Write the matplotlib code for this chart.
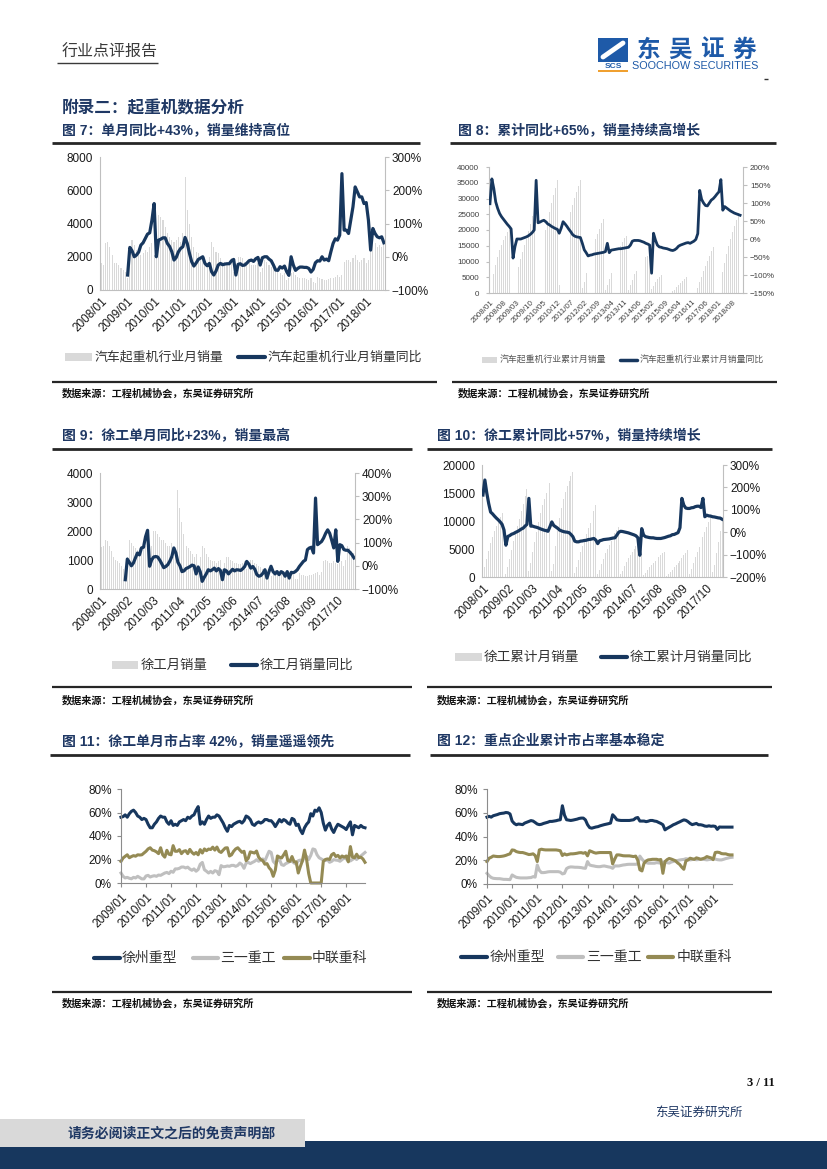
import numpy as np
import matplotlib.pyplot as plt
from matplotlib.lines import Line2D
from matplotlib.patches import Rectangle
from matplotlib.ticker import PercentFormatter

plt.rcParams['font.family'] = ['Liberation Sans', 'Noto Sans CJK SC', 'DejaVu Sans']

W, H = 827, 1169
NAVY = '#1F3864'
LINE_NAVY = '#17375E'
BAR_GREY = '#D9D9D9'
AXIS_GREY = '#BFBFBF'
SANY_GREY = '#BFBFBF'
OLIVE = '#948A54'
CJK = ['Noto Sans CJK SC', 'DejaVu Sans']

# ---------------- data ----------------
# 图7: 汽车起重机行业月销量 (2008/01-2018/09) 与同比 (2009/01 起, %)
crane_month_sales = [
    1600, 1500, 2800, 2900, 2600, 2100, 1600, 1600, 1500, 1300, 1200, 1100,
    700, 1900, 3000, 2700, 2400, 2300, 2100, 2200, 2400, 2300, 2600, 2800,
    2100, 2500, 4500, 4400, 4200, 3800, 3400, 3200, 3000, 2900, 3000, 3200,
    2900, 3400, 6800, 4800, 4000, 3200, 2600, 2300, 2200, 2000, 1900, 2000,
    1500, 2000, 2900, 2600, 2300, 2200, 1900, 1700, 1700, 1600, 1700, 1900,
    1100, 1400, 2000, 2000, 1900, 1700, 1600, 1600, 1500, 1500, 1500, 1600,
    1100, 1300, 1800, 1700, 1500, 1400, 1300, 1200, 1100, 1000, 900, 1000,
    600, 700, 1000, 1100, 900, 800, 700, 700, 700, 650, 600, 700,
    500, 450, 800, 700, 650, 600, 600, 650, 700, 750, 800, 900,
    800, 900, 1700, 1800, 1800, 1700, 1900, 2100, 1800, 1700, 1800, 1900,
    1600, 1800, 3200, 3000, 2800, 2600, 2700, 2600, 2900]
crane_month_yoy = [
    -55, 28, 18, 0, 5, 14, 35, 42, 55, 68, 72, 110,
    160, 0, 50, 53, 57, 57, 40, 31, 15, -10, -2, 15,
    25, 30, 58, 40, 10, -15, -28, -19, -8, -4, 0, -20,
    -27, -20, -45, -55, -43, -25, -20, -24, -22, -21, -21, -12,
    -8, -55, -23, -21, -26, -25, -19, -12, -10, -14, -6, -2,
    -25, -3, 0, 0, -7, -12, -25, -40, -41, -30, -34, -28,
    -45, -56, 0, -25, -41, -35, -31, -31, -32, -32, -35, -46,
    -38, -18, -12, -13, 0, -10, -7, -12, 15, 40, 54, 50,
    65, 250, 80, 80, 70, 110, 150, 210, 195, 180, 180, 160,
    163, 110, 20, 85, 70, 60, 57, 60, 42]
crane_month_labels = ['2008/01', '2009/01', '2010/01', '2011/01', '2012/01', '2013/01',
                      '2014/01', '2015/01', '2016/01', '2017/01', '2018/01']

# 图8: 汽车起重机行业累计月销量与累计同比 (2015/01 缺失)
crane_cum_sales = [
    1600, 3100, 5900, 8800, 11400, 13500, 15100, 16700, 18200, 19500, 20700, 21800,
    700, 2600, 5600, 8300, 10700, 13000, 15100, 17300, 19700, 22000, 24600, 27400,
    1800, 4200, 8500, 12800, 16600, 20000, 23000, 25800, 28500, 31000, 33400, 35800,
    2600, 5800, 11500, 16000, 19800, 23000, 25600, 27900, 30100, 32100, 34000, 36000,
    1500, 3500, 6400, 9000, 11300, 13500, 15400, 17100, 18800, 20400, 22100, 23500,
    1100, 2500, 4500, 6500, 8400, 10100, 11700, 13300, 14800, 16300, 17400, 18200,
    1100, 2400, 4200, 5900, 7000, 8000, 8900, 9800, 10600, 11300, 11900, 12500,
    1300, 2300, 3400, 4300, 5100, 5800, 6500, 7200, 7800, 8400, 9000,
    500, 950, 1750, 2450, 3100, 3700, 4300, 4950, 5650, 6400, 7200, 8100,
    800, 1700, 3400, 5200, 7000, 8700, 10300, 11900, 13300, 14700, 16000, 17500,
    1600, 3400, 6600, 9600, 12400, 15000, 17200, 19300, 21300, 23300, 25300, 27300]
crane_cum_yoy = [
    98, 167, 140, 103, 85, 71, 62, 55, 48, 41, 35, 28,
    -53, -21, 0, 0, 0, 2, 4, 6, 9, 13, 18, 25,
    163, 45, 47, 50, 52, 48, 42, 39, 35, 32, 29, 27,
    16, 30, 48, 42, 35, 27, 20, 12, 8, 6, 5, 4,
    -12, -30, -38, -47, -45, -44, -42, -41, -40, -39, -38, -37,
    -35, -12, -38, -31, -30, -29, -28, -27, -27, -26, -25, -24,
    -23, -17, -6, -4, -4, -4, -5, -7, -9, -12, -14, -17,
    -95, 16, -3, -17, -22, -23, -25, -26, -27, -29, -31,
    -32, -30, -26, -20, -17, -15, -13, -11, -10, -12, -9, -6,
    -1, 15, 135, 110, 100, 93, 92, 100, 108, 112, 118, 125,
    131, 165, 80, 90, 86, 82, 78, 75, 72, 70, 68, 66]
crane_cum_labels = ['2008/01', '2008/08', '2009/03', '2009/10', '2010/05', '2010/12',
                    '2011/07', '2012/02', '2012/09', '2013/04', '2013/11', '2014/06',
                    '2015/02', '2015/09', '2016/04', '2016/11', '2017/06', '2018/01',
                    '2018/08']

# 图9: 徐工月销量 (2008/01-2018/06) 与同比 (2009/01 起)
xcmg_month_sales = [
    1450, 1500, 1700, 1650, 1500, 1300, 1100, 1000, 950, 900, 800, 700,
    600, 1100, 1700, 1600, 1500, 1400, 1350, 1400, 1500, 1450, 1500, 1600,
    1200, 1500, 2000, 2000, 1900, 1800, 1700, 1700, 1600, 1500, 1500, 1600,
    1100, 1400, 3400, 2800, 2300, 1900, 1500, 1400, 1300, 1200, 1100, 1200,
    800, 1100, 1500, 1400, 1200, 1100, 1000, 950, 950, 900, 950, 1000,
    700, 900, 1100, 1100, 1000, 950, 900, 900, 850, 850, 900, 950,
    700, 800, 1000, 1000, 900, 850, 800, 750, 700, 650, 650, 700,
    450, 500, 650, 650, 600, 550, 500, 500, 480, 450, 430, 500,
    350, 330, 550, 500, 480, 450, 450, 480, 500, 520, 550, 600,
    500, 600, 950, 1000, 950, 900, 900, 950, 900, 850, 900, 950,
    800, 1000, 1500, 1400, 1300, 1250]
xcmg_month_yoy = [
    -60, 29, 15, 0, 12, 34, 55, 47, 77, 80, 125, 153,
    -2, 25, 38, 40, 38, 25, 9, -8, -3, 5, 20, 40,
    77, 55, 15, 0, -25, -22, -12, -8, -3, 3, 0, -35,
    -5, -25, -67, -50, -35, -17, -22, -17, -10, -22, -12, -20,
    -60, -17, -22, -35, -25, -15, -22, -17, -18, -20, -13, -3,
    19, 8, -10, -3, -15, -38, -45, -42, -32, -17, -53, -25,
    -2, -25, -35, -25, -38, -25, -30, -45, -25, -53, -28, -30,
    -25, -17, -3, 8, 19, 25, 70, 77, 80, 55, 292, 91,
    98, 105, 120, 140, 155, 140, 110, 77, 155, 19, 91, 87,
    70, 67, 67, 58, 48, 34]
xcmg_labels = ['2008/01', '2009/02', '2010/03', '2011/04', '2012/05', '2013/06',
               '2014/07', '2015/08', '2016/09', '2017/10']

# 图10: 徐工累计月销量与累计同比
xcmg_cum_sales = [
    700, 1700, 3200, 4700, 6000, 7200, 8200, 9100, 10000, 10800, 11500, 12200,
    600, 1700, 3300, 4900, 6400, 7800, 9100, 10400, 11800, 13100, 14400, 15800,
    1100, 2500, 4400, 6300, 8100, 9800, 11400, 12800, 14000, 15000, 15900, 16700,
    1000, 2300, 5600, 8300, 10500, 12400, 13900, 15200, 16300, 17200, 18000, 18800,
    700, 1700, 3100, 4400, 5600, 6700, 7700, 8700, 9700, 10700, 11800, 12800,
    500, 1300, 2300, 3300, 4200, 5000, 5700, 6400, 7100, 7800, 8400, 9000,
    500, 1100, 1900, 2700, 3400, 4000, 4500, 5000, 5500, 6000, 6300, 6600,
    300, 700, 1200, 1700, 2100, 2500, 2900, 3300, 3600, 3900, 4200, 4500,
    250, 500, 900, 1300, 1700, 2100, 2500, 2900, 3400, 3900, 4300, 4800,
    600, 1400, 2500, 3500, 4400, 5300, 6200, 7100, 8000, 8900, 9800, 10700,
    900, 2100, 4300, 6300, 8300, 10000]
xcmg_cum_yoy = [
    166, 233, 175, 128, 90, 82, 72, 63, 55, 46, 35, 10,
    -58, -19, -15, -9, -6, -1, 3, 8, 14, 18, 27, 35,
    151, 27, 27, 24, 22, 19, 15, 12, 9, 7, 4, 24,
    46, 30, 24, 18, 10, 6, 3, 1, 0, -2, -10, -20,
    -40, -43, -43, -40, -39, -37, -36, -33, -32, -30, -28, -35,
    -51, -38, -36, -33, -32, -31, -30, -28, -26, -25, -13, 0,
    4, 3, 1, -1, -3, -6, -9, -12, -16, -25, -103, 16,
    -13, -20, -22, -24, -25, -25, -27, -28, -28, -28, -26, -24,
    -21, -18, -16, -11, -10, -6, -2, 20, 151, 121, 108, 106,
    106, 109, 110, 114, 116, 116, 110, 151, 69, 76, 73, 72,
    69, 68, 66, 64, 63, 58]

# 图11: 单月市占率 (2009/01 起, %)
share_labels = ['2009/01', '2010/01', '2011/01', '2012/01', '2013/01', '2014/01',
                '2015/01', '2016/01', '2017/01', '2018/01']
month_share_xcmg = [
    56, 56.5, 58, 56, 59, 61, 62, 60, 57, 56, 54, 55,
    54, 50, 47, 47, 50, 52, 55, 57, 56, 56, 52, 50,
    53, 49, 50, 49, 52, 53, 54, 53, 56, 55, 57, 58,
    62, 65, 50, 52, 50, 54, 57, 55, 56, 56, 58, 57,
    54, 51, 47, 44, 49, 48, 50, 51, 52, 52.5, 51, 53,
    57, 56, 54, 50, 49, 51, 52, 51, 52, 54, 54, 53,
    53, 51, 48, 51, 54, 52, 54, 53, 51, 50, 55, 54,
    49, 50, 45, 42, 47, 50, 52, 59, 57, 62, 61, 64,
    60, 51, 45, 49, 51, 46, 43, 47, 50, 49, 48, 47,
    45.5, 49, 52, 41, 49, 48, 47, 49, 47.5, 47]
month_share_sany = [
    8.5, 5.7, 4.3, 4.8, 4, 3.6, 4.8, 4.3, 5.7, 4.6, 3.5, 3.5,
    6, 6.5, 5.1, 5.8, 6.2, 5.7, 6.8, 6.5, 7.5, 8.5, 9, 8,
    10, 9.1, 12, 12, 12.5, 13.6, 13.6, 12.8, 13.5, 11.9, 10.8, 12,
    10, 11.5, 16, 17.5, 11.3, 10, 8.5, 9.9, 8.5, 10.5, 9.9, 7.1,
    14.8, 13.8, 14, 14.5, 14.2, 15, 15, 14.2, 15, 17, 15.6, 12.5,
    17, 17.5, 16.5, 17.5, 18.4, 19.8, 18.5, 19.5, 20.5, 18.8, 23, 27,
    26, 18.4, 16.5, 19, 19.9, 15.6, 15, 16.5, 17.3, 18.4, 18.4, 17,
    16, 19, 19.5, 18.5, 22.5, 22.7, 20, 23.5, 29, 28.4, 24, 21.5,
    20.5, 19.5, 19, 19.8, 17.6, 18.4, 19.9, 19.5, 19.3, 18.5, 19.9, 21.3,
    20.5, 19, 18.8, 20, 21.3, 20, 22, 23, 24.5, 26]
month_share_zoomlion = [
    18.4, 21.3, 22.7, 24, 21.5, 22.5, 23.3, 22.8, 24, 23.8, 24, 25.5,
    27, 29, 30, 28, 27.5, 26.5, 25, 30, 24, 22, 27.8, 24.5,
    24, 31.8, 27, 27, 28.4, 25, 27, 27.5, 25, 28.6, 26.1, 24.5,
    26, 24, 28.4, 25.5, 29, 27.5, 28.9, 28.5, 30.5, 28, 30.6, 27,
    26, 28, 29.8, 30, 23, 24, 27, 29, 30, 28, 26.1, 27,
    19, 21, 26.5, 26, 25.5, 27.2, 22, 19.9, 19, 16, 16.5, 13,
    11, 5.7, 11, 23, 22, 21.3, 24, 27, 19, 18.4, 22.5, 18,
    18, 8.5, 14, 19, 28, 19.9, 8, 0, 0, 0, 0, 0,
    0, 18.4, 20, 20.5, 20, 24, 25.2, 22.5, 23.5, 21.3, 23, 22,
    23, 18, 31, 22, 21.5, 24.5, 21.5, 22, 20.5, 17.6]

# 图12: 累计市占率 (2009/01 起, %)
cum_share_xcmg = [
    56.3, 57, 56.3, 57.5, 58, 58.5, 59.2, 59.5, 59.7, 60.2, 60, 59,
    53, 51, 49.9, 50.5, 50.3, 50, 51.3, 52, 52.7, 53.4, 53, 51.8,
    50.5, 50, 50.3, 51, 51.5, 52, 52.7, 52.7, 53, 53.3, 53.8, 54.1,
    65.9, 58, 54.1, 53.8, 53.5, 53.8, 54.2, 54.6, 55.2, 55.5, 55.5, 54,
    50, 47.5, 47, 47.5, 48, 48.3, 49, 49.5, 50, 50.4, 50.8, 51.3,
    58.3, 56.5, 54.1, 53.7, 53.5, 53.5, 53.5, 53.5, 53.5, 53.8, 54.1, 55.5,
    56, 53, 53, 53, 52.5, 52.9, 53.5, 53.5, 53, 52.7, 51.8, 51,
    49.9, 45.6, 46.8, 47.8, 48.8, 49.9, 50.6, 51.5, 52.3, 53.2, 54, 53.6,
    52.5, 51, 50, 50.5, 51, 49.9, 49.9, 49.5, 48.8, 48.6, 49, 48.6,
    48.8, 48.5, 46, 48, 47.9, 47.9, 47.9, 47.9, 47.9, 47.9]
cum_share_sany = [
    9, 7, 5.5, 4.8, 4.6, 4.5, 4.5, 4.2, 3.9, 3.9, 3.8, 3.7,
    7.6, 6.5, 5.6, 5.3, 5.1, 5.1, 5.1, 5.1, 5.3, 5.4, 6.2, 5.8,
    16, 11.5, 9.6, 9.6, 9.8, 10.2, 10.4, 10.4, 10.4, 10.4, 10.4, 10,
    8.5, 9, 13, 14, 14.4, 14.3, 14.1, 14.1, 14, 13.8, 13.4, 13.2,
    18.9, 16, 15.5, 15.2, 14.8, 14.6, 14.6, 15, 15.2, 14.8, 14.4, 14.1,
    13.2, 15.2, 15.2, 15.2, 15.6, 16, 16.2, 16.5, 16.6, 16.6, 16.6, 16.6,
    16.8, 23.5, 21, 19, 18, 17.5, 17.5, 17.5, 17.5, 18, 17.8, 17.5,
    18.5, 18.5, 18, 17.6, 18.5, 19, 19.5, 19.8, 20.2, 20.5, 20.7, 21.3,
    21, 20.3, 20.6, 20.8, 20.4, 20.6, 20.8, 20.8, 20.6, 20.3, 20.6, 20.8,
    21.4, 21, 20.5, 20.3, 20.3, 20.8, 21.4, 21.8, 22.3, 22.5]
cum_share_zoomlion = [
    18.9, 21.7, 22.5, 23.6, 23.3, 23.1, 23.1, 23.3, 23.6, 24.1, 24.8, 25.4,
    28.7, 28.4, 27.3, 26.8, 26.5, 26.5, 26, 25.4, 24.8, 25, 25.4, 24,
    18.9, 28.7, 29.3, 28.9, 28.7, 28.7, 28.7, 28.7, 28.7, 28.7, 28.4, 28,
    24, 25.4, 24.5, 25, 25.4, 25.4, 25.6, 25.9, 26.3, 26.4, 25.9, 26.5,
    23.7, 28, 27.3, 26.5, 26, 26.3, 26.5, 26.5, 26.5, 26.5, 26.5, 26.5,
    16.9, 21, 24.5, 24.5, 24.2, 23.8, 23.7, 23.7, 23.7, 23.4, 23.1, 23.5,
    20, 12, 11, 17.5, 19.4, 20.3, 20.5, 20.8, 20.8, 20.8, 20.3, 20.6,
    9, 18.9, 20.5, 21.5, 21, 20.3, 19.5, 17.8, 16.5, 14.2, 12.4, 19.5,
    20.2, 21.7, 21.2, 20.8, 22, 21.5, 20.8, 21.3, 21.9, 23.1, 22.5, 22,
    20.5, 26.5, 26.8, 26.5, 25.6, 25.4, 25.4, 24.8, 24.5, 24.5]

source_text = '数据来源：工程机械协会，东吴证券研究所'

# ---------------- helpers (pixel coords, top-left origin) ----------------
fig = plt.figure(figsize=(8.27, 11.69), dpi=100)
fig.patch.set_facecolor('white')


def frect(l, t, r, b):
    return [l / W, 1 - b / H, (r - l) / W, (b - t) / H]


def hline(x0, x1, y, lw=1.3, color='#262626'):
    fig.add_artist(Line2D([x0 / W, x1 / W], [1 - y / H] * 2, color=color, lw=lw,
                          solid_capstyle='butt'))


def ftext(x, y, s, size, **kw):
    kw.setdefault('va', 'center')
    kw.setdefault('ha', 'left')
    fig.text(x / W, 1 - y / H, s, fontsize=size, **kw)


def box(x0, y0, x1, y1, color):
    fig.add_artist(Rectangle((x0 / W, 1 - y1 / H), (x1 - x0) / W, (y1 - y0) / H,
                             facecolor=color, edgecolor='none'))


def leg_line(x0, x1, y, color, lw=3):
    fig.add_artist(Line2D([x0 / W, x1 / W], [1 - y / H] * 2, color=color, lw=lw,
                          solid_capstyle='round'))


def bar_line_chart(rect_px, bars, line, line_start, n_cat, ylim_l, yticks_l,
                   ylim_r, yticks_r, step, labels, fs=8.5, bar_w=0.5, lw=2.3,
                   tick_color='#1a1a1a', ylen=0):
    ax = fig.add_axes(frect(*rect_px))
    ax.bar(np.arange(len(bars)), bars, width=bar_w, color=BAR_GREY, linewidth=0)
    ax.set_xlim(-0.5, n_cat - 0.5)
    ax.set_ylim(*ylim_l)
    ax.set_yticks(yticks_l)
    ax.set_xticks(np.arange(len(labels)) * step)
    ax.set_xticklabels(labels, rotation=45, ha='right', rotation_mode='anchor')
    ax.tick_params(axis='x', length=0, labelsize=fs, pad=4, labelcolor=tick_color)
    ax.tick_params(axis='y', length=ylen, labelsize=fs, pad=5, labelcolor=tick_color,
                   color=AXIS_GREY)
    for s in ['top', 'right']:
        ax.spines[s].set_visible(False)
    for s in ['left', 'bottom']:
        ax.spines[s].set_color(AXIS_GREY)
        ax.spines[s].set_linewidth(0.8)
    ax2 = ax.twinx()
    ax2.plot(np.arange(line_start, line_start + len(line)), line, color=LINE_NAVY,
             lw=lw, solid_joinstyle='round')
    ax2.set_ylim(*ylim_r)
    ax2.set_yticks(yticks_r)
    ax2.yaxis.set_major_formatter(PercentFormatter(100, decimals=0))
    ax2.tick_params(axis='y', length=3, color=AXIS_GREY, labelsize=fs, pad=2,
                    labelcolor=tick_color)
    for s in ['top', 'left', 'bottom']:
        ax2.spines[s].set_visible(False)
    ax2.spines['right'].set_color(AXIS_GREY)
    ax2.spines['right'].set_linewidth(0.8)
    return ax, ax2


def share_chart(rect_px, xcmg, sany, zoomlion, fs=8.5):
    ax = fig.add_axes(frect(*rect_px))
    x = np.arange(len(xcmg))
    ax.plot(x, xcmg, color=LINE_NAVY, lw=2.2, clip_on=False)
    ax.plot(x, sany, color=SANY_GREY, lw=2.2, clip_on=False)
    ax.plot(x, zoomlion, color=OLIVE, lw=2.2, clip_on=False)
    ax.set_xlim(0, len(xcmg) - 1)
    ax.set_ylim(0, 80)
    ax.set_yticks([0, 20, 40, 60, 80])
    ax.yaxis.set_major_formatter(PercentFormatter(100, decimals=0))
    ax.set_xticks(np.arange(len(share_labels)) * 12)
    ax.set_xticklabels(share_labels, rotation=45, ha='right', rotation_mode='anchor')
    ax.tick_params(axis='both', length=3, color='#8C8C8C', labelsize=fs,
                   labelcolor='#1a1a1a')
    ax.tick_params(axis='x', pad=3)
    for s in ['top', 'right']:
        ax.spines[s].set_visible(False)
    for s in ['left', 'bottom']:
        ax.spines[s].set_color('#8C8C8C')
        ax.spines[s].set_linewidth(0.8)
    return ax


# ---------------- page header ----------------
ftext(62, 52, '行业点评报告', 11.5, color='#3a3a3a', family=CJK)
hline(57, 158, 63, lw=1.0, color='#3a3a3a')

# logo
box(598, 38, 628, 62, '#1E5AA8')
fig.add_artist(Line2D([603 / W, 623 / W], [1 - 57 / H, 1 - 43 / H], color='white',
                      lw=3.5, solid_capstyle='round'))
ftext(613, 66, 'SCS', 6, ha='center', color='#1E5AA8', weight='bold')
box(598, 70, 628, 72, '#F0A030')
for i, ch in enumerate('东吴证券'):
    ftext(648 + i * 32, 50, ch, 17, ha='center', color='#1E5AA8', weight='bold',
          family=CJK)
ftext(632, 66, 'SOOCHOW SECURITIES', 7.8, color='#1E5AA8')
hline(764, 768, 79, lw=1.0, color='#333333')

ftext(62, 108, '附录二：起重机数据分析', 12, color=NAVY, weight='bold', family=CJK)

# ---------------- 图7 / 图8 ----------------
ftext(62, 131, '图 7：单月同比+43%，销量维持高位', 10, color=NAVY, weight='bold')
ftext(458, 131, '图 8：累计同比+65%，销量持续高增长', 10, color=NAVY, weight='bold')
hline(52, 420, 143, lw=2.0)
hline(450, 776, 143, lw=2.0)

bar_line_chart((100, 157, 385, 290), crane_month_sales, crane_month_yoy, 12,
               len(crane_month_sales), (0, 8000), [0, 2000, 4000, 6000, 8000],
               (-100, 300), [-100, 0, 100, 200, 300], 12, crane_month_labels)
box(65, 353, 92, 361, BAR_GREY)
ftext(95, 357, '汽车起重机行业月销量', 9.3, color='#333333', family=CJK)
leg_line(238, 265, 357, LINE_NAVY)
ftext(268, 357, '汽车起重机行业月销量同比', 9.3, color='#333333', family=CJK)

bar_line_chart((489, 167, 743, 293), crane_cum_sales, crane_cum_yoy, 0,
               len(crane_cum_sales) + 1, (0, 40000), list(range(0, 40001, 5000)),
               (-150, 200), list(range(-150, 201, 50)), 7, crane_cum_labels,
               fs=5.8, bar_w=0.35, lw=2.0, tick_color='#404040', ylen=2)
box(482, 357, 497, 363, BAR_GREY)
ftext(500, 360, '汽车起重机行业累计月销量', 6.4, color='#555555', family=CJK)
leg_line(620, 637, 360, LINE_NAVY, lw=2.5)
ftext(640, 360, '汽车起重机行业累计月销量同比', 6.4, color='#555555', family=CJK)

hline(52, 437, 382, lw=1.6)
hline(452, 777, 382, lw=1.6)
ftext(62, 393, source_text, 7.3, weight='bold', color='#111111', family=CJK)
ftext(458, 393, source_text, 7.3, weight='bold', color='#111111', family=CJK)

# ---------------- 图9 / 图10 ----------------
ftext(62, 436, '图 9：徐工单月同比+23%，销量最高', 10, color=NAVY, weight='bold')
ftext(437, 436, '图 10：徐工累计同比+57%，销量持续增长', 10, color=NAVY, weight='bold')
hline(52, 412, 449, lw=2.0)
hline(427, 772, 449, lw=2.0)

bar_line_chart((100, 473, 355, 589), xcmg_month_sales, xcmg_month_yoy, 12,
               len(xcmg_month_sales), (0, 4000), [0, 1000, 2000, 3000, 4000],
               (-100, 400), [-100, 0, 100, 200, 300, 400], 13, xcmg_labels)
box(112, 661, 138, 669, BAR_GREY)
ftext(141, 665, '徐工月销量', 9.6, color='#333333', family=CJK)
leg_line(231, 257, 665, LINE_NAVY)
ftext(260, 665, '徐工月销量同比', 9.6, color='#333333', family=CJK)

bar_line_chart((482, 465, 723, 577), xcmg_cum_sales, xcmg_cum_yoy, 0,
               len(xcmg_cum_sales), (0, 20000), [0, 5000, 10000, 15000, 20000],
               (-200, 300), [-200, -100, 0, 100, 200, 300], 13, xcmg_labels)
box(455, 653, 482, 661, BAR_GREY)
ftext(484, 657, '徐工累计月销量', 9.8, color='#333333', family=CJK)
leg_line(601, 627, 657, LINE_NAVY)
ftext(630, 657, '徐工累计月销量同比', 9.8, color='#333333', family=CJK)

hline(52, 412, 687, lw=1.6)
hline(427, 772, 687, lw=1.6)
ftext(62, 700, source_text, 7.3, weight='bold', color='#111111', family=CJK)
ftext(437, 700, source_text, 7.3, weight='bold', color='#111111', family=CJK)

# ---------------- 图11 / 图12 ----------------
ftext(62, 741, '图 11：徐工单月市占率 42%，销量遥遥领先', 10, color=NAVY, weight='bold')
ftext(437, 741, '图 12：重点企业累计市占率基本稳定', 10, color=NAVY, weight='bold')
hline(50, 410, 755, lw=2.0)
hline(430, 768, 755, lw=2.0)

share_chart((121, 789, 365, 883), month_share_xcmg, month_share_sany,
            month_share_zoomlion)
leg_line(94, 120, 958, LINE_NAVY)
ftext(122, 958, '徐州重型', 10, color='#333333', family=CJK)
leg_line(193, 218, 958, SANY_GREY)
ftext(220, 958, '三一重工', 10, color='#333333', family=CJK)
leg_line(284, 310, 958, OLIVE)
ftext(312, 958, '中联重科', 10, color='#333333', family=CJK)

share_chart((487, 789, 732, 884), cum_share_xcmg, cum_share_sany, cum_share_zoomlion)
leg_line(461, 487, 957, LINE_NAVY)
ftext(490, 957, '徐州重型', 10, color='#333333', family=CJK)
leg_line(558, 583, 957, SANY_GREY)
ftext(586, 957, '三一重工', 10, color='#333333', family=CJK)
leg_line(648, 673, 957, OLIVE)
ftext(677, 957, '中联重科', 10, color='#333333', family=CJK)

hline(52, 412, 992, lw=1.6)
hline(427, 772, 992, lw=1.6)
ftext(62, 1003, source_text, 7.3, weight='bold', color='#111111', family=CJK)
ftext(437, 1003, source_text, 7.3, weight='bold', color='#111111', family=CJK)

# ---------------- footer ----------------
ftext(775, 1083, '3 / 11', 9, ha='right', weight='bold', color='#111111',
      family=['Liberation Serif', 'DejaVu Serif'])
ftext(655, 1112, '东吴证券研究所', 9, color=NAVY, family=CJK)
box(0, 1141, W, H, '#17375E')
box(0, 1119, 305, 1147, '#D9D9D9')
ftext(68, 1133, '请务必阅读正文之后的免责声明部', 10, weight='bold', color=NAVY, family=CJK)

fig.savefig('out.png', dpi=100, facecolor='white')
